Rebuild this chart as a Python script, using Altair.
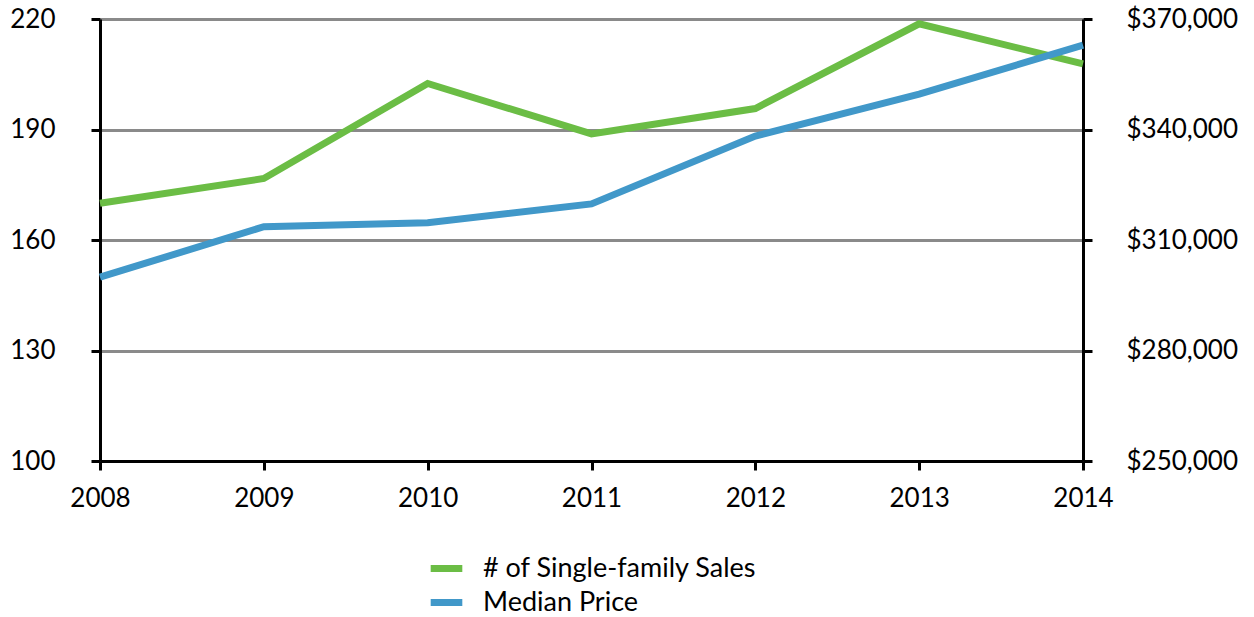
import altair as alt
import pandas as pd

years = [2008, 2009, 2010, 2011, 2012, 2013, 2014]
sales = [170, 176.7, 202.5, 188.8, 195.7, 218.7, 207.8]
median_price = [299900, 313600, 314700, 319800, 338200, 349600, 362900]

series_names = ["# of Single-family Sales", "Median Price"]
series_colors = ["#6BBD45", "#4198C9"]

left_ticks = [100, 130, 160, 190, 220]
right_ticks = [250000, 280000, 310000, 340000, 370000]

df_sales = pd.DataFrame({"year": years, "value": sales, "series": series_names[0]})
df_price = pd.DataFrame({"year": years, "value": median_price, "series": series_names[1]})

FONT = "Lato"
FS = 26
LFS = 27

color_enc = alt.Color(
    "series:N",
    scale=alt.Scale(domain=series_names, range=series_colors),
    legend=alt.Legend(
        title=None, orient="none", legendX=327, legendY=530,
        direction="vertical", symbolType="stroke", symbolStrokeWidth=7,
        symbolSize=1000, labelFontSize=LFS, labelFont=FONT,
        labelColor="black", rowPadding=0, labelOffset=17, labelLimit=0,
    ),
)

x_enc = alt.X(
    "year:Q",
    scale=alt.Scale(domain=[2008, 2014], nice=False, zero=False),
    axis=alt.Axis(
        values=years, format="d", title=None, grid=False,
        domainColor="black", domainWidth=3, tickColor="black", tickWidth=3,
        tickSize=9, labelPadding=15, labelFontSize=FS, labelFont=FONT,
        labelColor="black", labelFlush=False,
    ),
)

sales_line = alt.Chart(df_sales).mark_line(strokeWidth=7).encode(
    x=x_enc,
    y=alt.Y(
        "value:Q",
        scale=alt.Scale(domain=[100, 220], nice=False, zero=False),
        axis=alt.Axis(
            values=left_ticks, title=None, orient="left", grid=True,
            gridColor="#8a8a8a", gridWidth=3, domainColor="black",
            domainWidth=3, tickColor="black", tickWidth=3, tickSize=9,
            labelPadding=36, labelFontSize=FS, labelFont=FONT,
            labelColor="black",
        ),
    ),
    color=color_enc,
)

price_line = alt.Chart(df_price).mark_line(strokeWidth=7).encode(
    x=x_enc,
    y=alt.Y(
        "value:Q",
        scale=alt.Scale(domain=[250000, 370000], nice=False, zero=False),
        axis=alt.Axis(
            values=right_ticks, format="$,d", title=None, orient="right",
            grid=False, domainColor="black", domainWidth=3,
            tickColor="black", tickWidth=3, tickSize=9, labelPadding=34,
            labelFontSize=FS, labelFont=FONT, labelColor="black",
        ),
    ),
    color=color_enc,
)

chart = (
    alt.layer(sales_line, price_line)
    .resolve_scale(y="independent")
    .properties(
        width=983, height=442,
        autosize=alt.AutoSizeParams(type="none"),
        padding={"left": 100, "top": 19, "right": 171, "bottom": 156},
    )
    .configure_view(stroke=None)
    .configure(background="white")
)

chart.save("out.html", embed_options={"renderer": "svg", "actions": False})
